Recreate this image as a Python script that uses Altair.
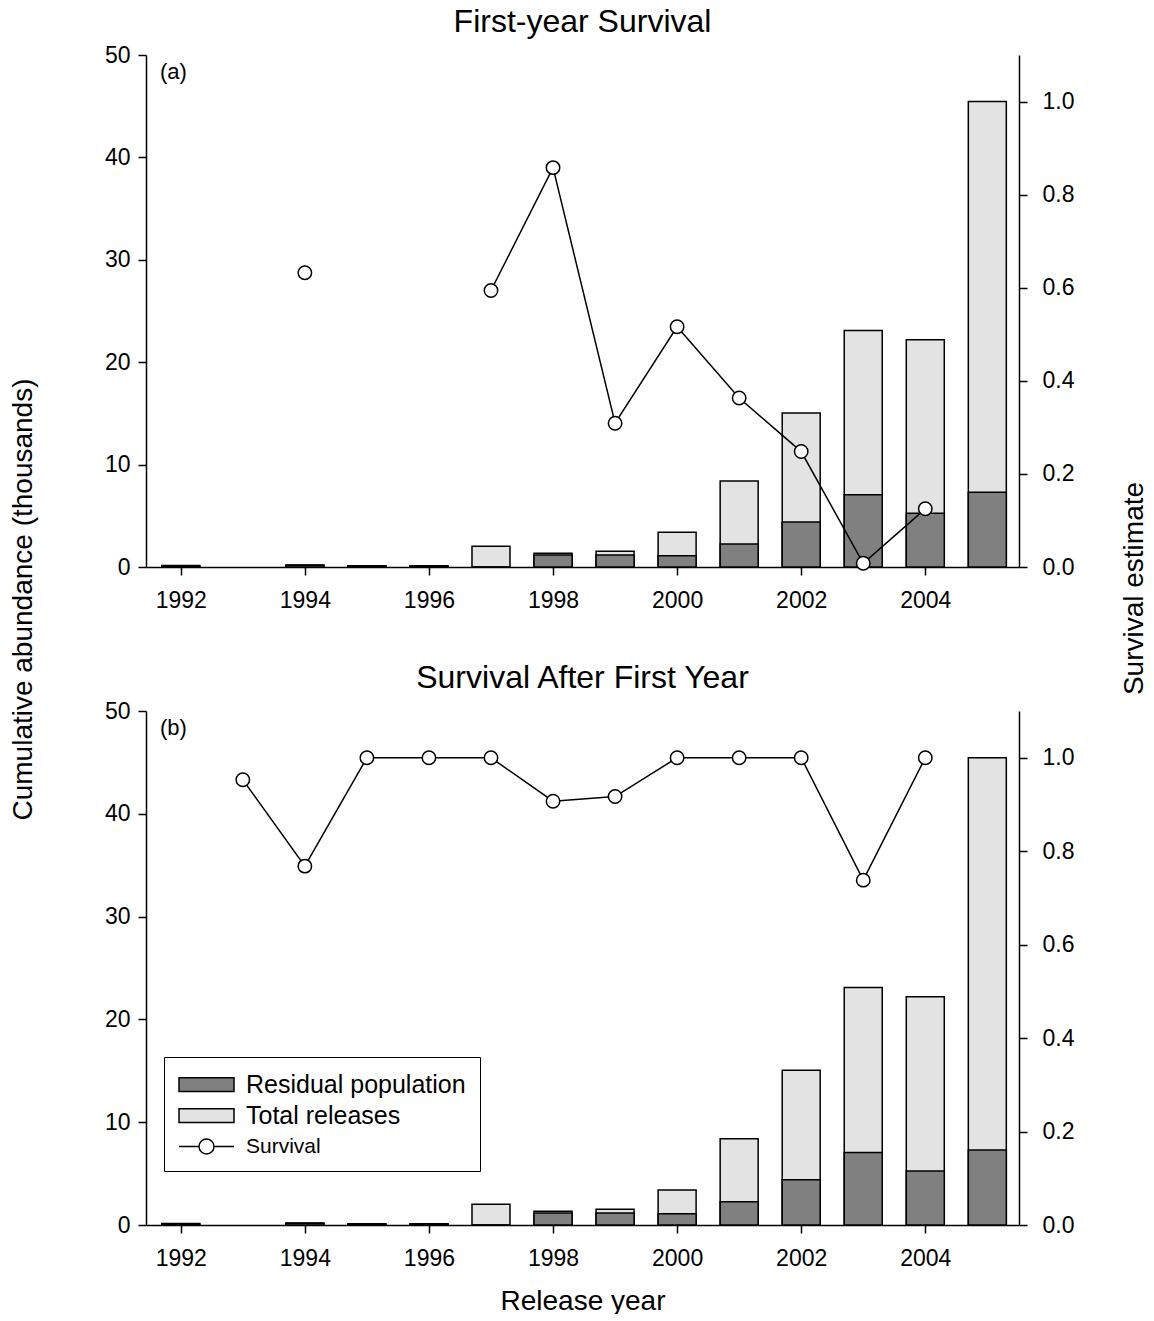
import altair as alt
import pandas as pd

# ---------------- data ----------------
bar_years = [1992, 1994, 1995, 1996, 1997, 1998, 1999, 2000, 2001, 2002, 2003, 2004, 2005]
total_releases = [0.15, 0.2, 0.12, 0.12, 2.03, 1.34, 1.53, 3.4, 8.4, 15.05, 23.1, 22.2, 45.45]
residual_population = [0.1, 0.17, 0.1, 0.1, 0.0, 1.17, 1.17, 1.1, 2.25, 4.4, 7.05, 5.25, 7.3]

surv_years = [1992, 1993, 1994, 1995, 1996, 1997, 1998, 1999, 2000, 2001, 2002, 2003, 2004, 2005]
surv_first_year = [None, None, 0.632, None, None, 0.594, 0.858, 0.309, 0.516, 0.363, 0.248, 0.008, 0.125, None]
surv_after_first = [None, 0.953, 0.768, 1.0, 1.0, 1.0, 0.907, 0.917, 1.0, 1.0, 1.0, 0.738, 1.0, None]

x_ticks = [1992, 1994, 1996, 1998, 2000, 2002, 2004]
left_ticks = [0, 10, 20, 30, 40, 50]
right_ticks = [0.0, 0.2, 0.4, 0.6, 0.8, 1.0]

legend_labels = ["Residual population", "Total releases", "Survival"]
legend_fills = ["#808080", "#e3e3e3", "white"]
legend_strokes = ["black", "black", "black"]
rect_path = "M-2.2,-0.55H2.2V0.55H-2.2Z"
surv_path = "M-2.2,0H-0.6M0.6,0H2.2M-0.6,0A0.6,0.6 0 1,1 0.6,0A0.6,0.6 0 1,1 -0.6,0Z"
legend_shapes = [rect_path, rect_path, surv_path]

FONT = "Liberation Sans"
W = 873

bars_df = pd.DataFrame({"year": bar_years, "total": total_releases, "residual": residual_population})

x_scale = alt.Scale(domain=[1991.52, 2005.43], nice=False, zero=False)
yl_scale = alt.Scale(domain=[0, 50], nice=False, zero=True)
yr_scale = alt.Scale(domain=[0, 1.1], nice=False, zero=True)
fill_scale = alt.Scale(domain=legend_labels, range=legend_fills)
stroke_scale = alt.Scale(domain=legend_labels, range=legend_strokes)
shape_scale = alt.Scale(domain=legend_labels, range=legend_shapes)

legend_def = alt.Legend(
    title=None, orient="none", legendX=18, legendY=346,
    padding=14, strokeColor="black", fillColor="white",
    symbolSize=625, symbolStrokeColor="black", symbolStrokeWidth=1.5,
    symbolOffset=15, labelOffset=26, rowPadding=4, labelLimit=400,
    labelFont=FONT, labelColor="black",
    labelFontSize={"expr": "datum.label == 'Survival' ? 21 : 25"},
    symbolOpacity=1,
)


def panel(title, tag, surv, bottom, height):
    surv_df = pd.DataFrame({"year": surv_years, "survival": surv})

    if bottom:
        x_axis = alt.Axis(values=x_ticks, format="d", title="Release year",
                          titleY=84, titleBaseline="alphabetic", labelPadding=14)
        left_axis = alt.Axis(values=left_ticks, title=None, labelPadding=8)
        right_axis = alt.Axis(values=right_ticks, format=".1f", orient="right", title=None, labelPadding=15)
    else:
        x_axis = alt.Axis(values=x_ticks, format="d", title=None, labelPadding=14)
        left_axis = alt.Axis(values=left_ticks, title="Cumulative abundance (thousands)",
                             titleX=-115, titleY=544, titleAngle=270, titleBaseline="alphabetic",
                             labelPadding=8)
        right_axis = alt.Axis(values=right_ticks, format=".1f", orient="right",
                              title="Survival estimate", titleX=123, titleY=533, titleAngle=270,
                              titleBaseline="alphabetic", labelPadding=15)

    base_bar = alt.Chart(bars_df)
    if bottom:
        fill_enc = alt.Fill("series:N", scale=fill_scale, legend=legend_def)
        stroke_enc = alt.Stroke("series:N", scale=stroke_scale, legend=legend_def)
        total_fill = resid_fill = fill_enc
        bar_stroke = stroke_enc
    else:
        total_fill = alt.value("#e3e3e3")
        resid_fill = alt.value("#808080")
        bar_stroke = alt.value("black")

    total = base_bar.mark_bar(size=38, strokeWidth=1.5).encode(
        x=alt.X("year:Q", scale=x_scale, axis=x_axis),
        y=alt.Y("total:Q", scale=yl_scale, axis=left_axis),
        fill=total_fill,
        stroke=bar_stroke,
    ).transform_calculate(series="'Total releases'")
    resid = base_bar.mark_bar(size=38, strokeWidth=1.5).encode(
        x=alt.X("year:Q", scale=x_scale),
        y=alt.Y("residual:Q", scale=yl_scale),
        fill=resid_fill,
        stroke=bar_stroke,
    ).transform_calculate(series="'Residual population'")
    tag_text = alt.Chart(pd.DataFrame({"tag": [tag]})).mark_text(
        align="left", baseline="middle", fontSize=22, font=FONT, color="black"
    ).encode(x=alt.value(14), y=alt.value(17), text="tag:N")

    bars = alt.layer(total, resid, tag_text)

    line = alt.Chart(surv_df).mark_line(
        color="black", strokeWidth=1.5, invalid="break-paths-filter-domains"
    ).encode(
        x=alt.X("year:Q", scale=x_scale),
        y=alt.Y("survival:Q", scale=yr_scale, axis=right_axis),
    )
    pts = alt.Chart(surv_df).mark_point(
        shape="circle", filled=True, fill="white", stroke="black", strokeWidth=1.5, size=180, opacity=1
    ).encode(
        x=alt.X("year:Q", scale=x_scale),
        y=alt.Y("survival:Q", scale=yr_scale),
    ).transform_filter("isValid(datum.survival)")
    surv_layers = [line, pts]
    if bottom:
        legend_only = alt.Chart(surv_df).mark_point(
            filled=True, strokeWidth=1.5, opacity=1
        ).encode(
            x=alt.X("year:Q", scale=x_scale),
            y=alt.Y("survival:Q", scale=yr_scale),
            fill=alt.Fill("series:N", scale=fill_scale, legend=legend_def),
            stroke=alt.Stroke("series:N", scale=stroke_scale, legend=legend_def),
            shape=alt.Shape("series:N", scale=shape_scale, legend=legend_def),
        ).transform_calculate(series="'Survival'").transform_filter("datum.year < 0")
        surv_layers.append(legend_only)
    survl = alt.layer(*surv_layers)

    return alt.layer(bars, survl).resolve_scale(y="independent").properties(
        width=W, height=height,
        title=alt.TitleParams(title, fontSize=32, font=FONT, fontWeight="normal", color="black",
                              frame="group", anchor="middle", baseline="alphabetic", offset=-20),
    )


top = panel("First-year Survival", "(a)", surv_first_year, False, 512)
bot = panel("Survival After First Year", "(b)", surv_after_first, True, 514)

chart = alt.vconcat(top, bot, spacing=144, bounds="flush").resolve_legend(
    fill="independent", shape="independent", stroke="independent"
).properties(padding={"left": 0, "top": -3, "right": -5, "bottom": -2}).configure(font=FONT).configure_view(
    stroke="transparent"
).configure_axis(
    domainColor="black", domainWidth=1.5, tickColor="black", tickWidth=1.5, tickSize=8,
    labelFontSize=23, labelColor="black", labelFont=FONT,
    titleFontSize=28, titleFontWeight="normal", titleColor="black", titleFont=FONT,
    grid=False,
)

chart.save("out.html", embed_options={"renderer": "svg", "actions": False})
